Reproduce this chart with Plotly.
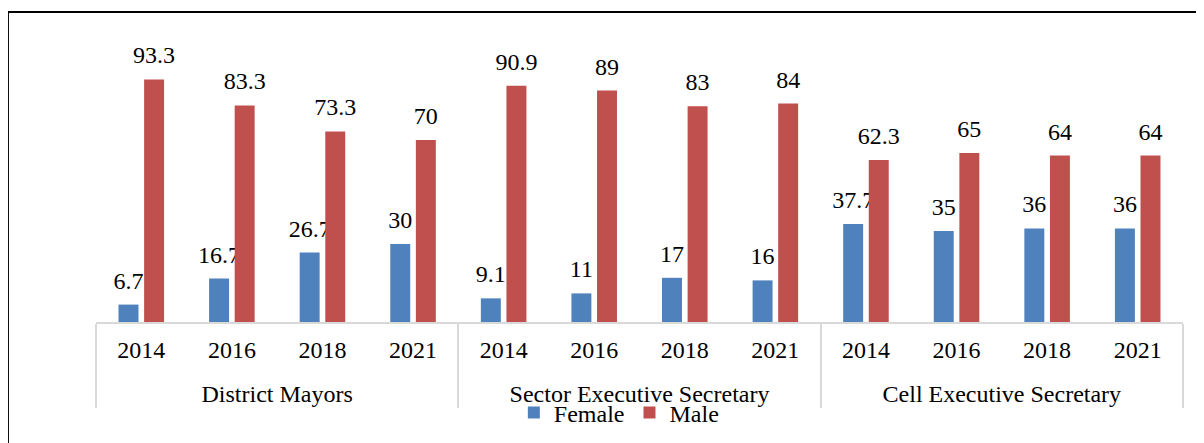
import plotly.graph_objects as go

groups = ["District Mayors", "Sector Executive Secretary", "Cell Executive Secretary"]
years = ["2014", "2016", "2018", "2021"]
female = [6.7, 16.7, 26.7, 30, 9.1, 11, 17, 16, 37.7, 35, 36, 36]
male = [93.3, 83.3, 73.3, 70, 90.9, 89, 83, 84, 62.3, 65, 64, 64]

FONT = "Liberation Serif"
FS = 24
SPACER = "<br><span style='font-size:1px'> </span>"
TICK_SPACER = "<br><span style='font-size:24px'> </span>"


def big(s):
    return f"<span style='font-size:{FS}px'>{s}</span>"


x_outer = [big(g) for g in groups for _ in years]
# invisible second line to push the group row down like the original
x_inner = [big(y) + TICK_SPACER for _ in groups for y in years]


def bar_labels(vals):
    # value on the first line, tiny empty second line to lift the label off the bar
    return [big(f"{v:g}") + SPACER for v in vals]


fig = go.Figure()
for name, vals, color in [("Female", female, "#4F81BD"), ("Male", male, "#C0504D")]:
    fig.add_trace(go.Bar(x=[x_outer, x_inner], y=vals, name=name,
                         marker=dict(color=color, line=dict(width=0)),
                         text=bar_labels(vals), textposition="outside",
                         constraintext="none",
                         textfont=dict(family=FONT, size=10, color="black"),
                         cliponaxis=False))

fig.update_layout(
    width=1204, height=443,
    margin=dict(l=88, r=29, t=54, b=129),
    paper_bgcolor="white", plot_bgcolor="white",
    barmode="group", bargap=0.435, bargroupgap=0.22,
    font=dict(family=FONT, size=FS, color="black"),
    showlegend=True,
    legend=dict(orientation="h", x=0.481, xanchor="center", y=-0.35, yanchor="middle",
                font=dict(family=FONT, size=FS, color="black"),
                bgcolor="rgba(0,0,0,0)"),
    xaxis=dict(type="multicategory", showline=True, linecolor="#D9D9D9", linewidth=2,
               showdividers=True, dividercolor="#D9D9D9", dividerwidth=2,
               ticks="", showgrid=False, ticklabelstandoff=10,
               tickfont=dict(family=FONT, size=20, color="black")),
    yaxis=dict(range=[0, 100], visible=False, showgrid=False, zeroline=False),
    shapes=[dict(type="rect", xref="paper", yref="paper",
                 x0=-0.081, x1=1.2, y0=-0.8, y1=1.192,
                 line=dict(color="black", width=2), fillcolor="rgba(0,0,0,0)", layer="above")],
)

fig.write_html("out.html")
